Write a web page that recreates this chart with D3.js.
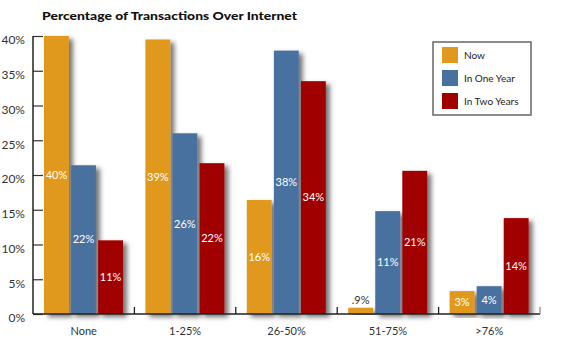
<!DOCTYPE html>
<html>
<head>
<meta charset="utf-8">
<script src="https://cdn.jsdelivr.net/npm/d3@7"></script>
<style>
  body { margin: 0; background: #fff; }
  text { font-family: Lato, "DejaVu Sans", sans-serif; }
</style>
</head>
<body>
<svg width="567" height="351"></svg>
<script>
// chart data
const categories = ['None', '1-25%', '26-50%', '51-75%', '>76%'];
const seriesNames = ['Now', 'In One Year', 'In Two Years'];
const nowValues = [40, 39.5, 16.4, 0.9, 3.3];
const oneYearValues = [21.4, 26.0, 37.9, 14.8, 4.0];
const twoYearValues = [10.6, 21.7, 33.5, 20.6, 13.8];
const nowLabels = ['40%', '39%', '16%', '.9%', '3%'];
const oneYearLabels = ['22%', '26%', '38%', '11%', '4%'];
const twoYearLabels = ['11%', '22%', '34%', '21%', '14%'];
const yTicks = [0, 5, 10, 15, 20, 25, 30, 35, 40];
const colors = ['#e0991e', '#48719f', '#a00000'];

const svg = d3.select('svg');
const width = +svg.attr('width');
const height = +svg.attr('height');
const font = 'Lato, "DejaVu Sans", sans-serif';

const margin = {top: 36, right: 27, bottom: 37, left: 33};
const innerWidth = width - margin.left - margin.right;
const innerHeight = height - margin.top - margin.bottom;

// build rows for each bar
const valueSets = [nowValues, oneYearValues, twoYearValues];
const labelSets = [nowLabels, oneYearLabels, twoYearLabels];
const bars = [];
categories.forEach((c, i) => {
    seriesNames.forEach((s, j) => {
        bars.push({cat: c, series: s, value: valueSets[j][i], label: labelSets[j][i], color: colors[j]});
    });
});

const x0 = d3.scaleBand()
    .domain(categories)
    .range([0, innerWidth]);

const x1 = d3.scaleBand()
    .domain(seriesNames)
    .range([11, 90])
    .paddingInner(0.08);

const yScale = d3.scaleLinear()
    .domain([0, 40])
    .range([innerHeight, 0]);

const defs = svg.append('defs');
const shadow = defs.append('filter')
    .attr('id', 'shadow')
    .attr('x', '-15%').attr('y', '-10%')
    .attr('width', '165%').attr('height', '125%');
shadow.append('feDropShadow')
    .attr('dx', 4).attr('dy', 3)
    .attr('stdDeviation', 2.5)
    .attr('flood-color', '#000')
    .attr('flood-opacity', 0.55);

svg.append('text')
    .attr('x', 42)
    .attr('y', 20)
    .attr('font-size', 12)
    .attr('font-weight', 900)
    .attr('fill', '#111')
    .attr('textLength', 255)
    .attr('lengthAdjust', 'spacingAndGlyphs')
    .text('Percentage of Transactions Over Internet');

const g = svg.append('g')
    .attr('transform', `translate(${margin.left}, ${margin.top})`);

// bars
g.selectAll('rect.bar').data(bars)
    .enter().append('rect')
        .attr('class', 'bar')
        .attr('x', d => x0(d.cat) + x1(d.series))
        .attr('y', d => yScale(d.value))
        .attr('width', x1.bandwidth())
        .attr('height', d => innerHeight - yScale(d.value))
        .attr('fill', d => d.color)
        .attr('filter', 'url(#shadow)');

// bar labels
g.selectAll('text.bar-label').data(bars)
    .enter().append('text')
        .attr('class', 'bar-label')
        .attr('x', d => x0(d.cat) + x1(d.series) + x1.bandwidth() / 2)
        .attr('y', d => d.value < 2 ? yScale(d.value) - 4 : yScale(d.value / 2))
        .attr('dy', d => d.value < 2 ? 0 : '0.35em')
        .attr('text-anchor', 'middle')
        .attr('font-size', 11)
        .attr('fill', d => d.value < 2 ? '#333' : '#fff')
        .text(d => d.label);

// y axis
const yAxis = d3.axisLeft(yScale)
    .tickValues(yTicks)
    .tickFormat(d => d + '%')
    .tickSize(-10)
    .tickPadding(8);

const yAxisG = g.append('g').call(yAxis);
yAxisG.select('.domain').remove();
yAxisG.selectAll('line').attr('stroke', '#333').attr('stroke-width', 1.2);
yAxisG.selectAll('text')
    .attr('font-size', 12)
    .attr('fill', '#333')
    .attr('font-family', font)
    .attr('x', -8)
    .attr('dy', '0.65em');
yAxisG.append('line')
    .attr('y1', 0).attr('y2', innerHeight)
    .attr('stroke', '#222').attr('stroke-width', 1.5);

// x axis
const xAxis = d3.axisBottom(x0)
    .tickSize(0)
    .tickPadding(13);

const xAxisG = g.append('g').call(xAxis)
    .attr('transform', `translate(0, ${innerHeight})`);
xAxisG.select('.domain').remove();
xAxisG.selectAll('text')
    .attr('font-size', 11)
    .attr('fill', '#333')
    .attr('font-family', font);
xAxisG.append('line')
    .attr('x1', 0).attr('x2', innerWidth)
    .attr('stroke', '#222').attr('stroke-width', 1.5);
xAxisG.selectAll('line.sep').data(categories.slice(1).concat(['end']))
    .enter().append('line')
        .attr('class', 'sep')
        .attr('x1', (d, i) => x0.step() * (i + 1))
        .attr('x2', (d, i) => x0.step() * (i + 1))
        .attr('y1', 0).attr('y2', -7)
        .attr('stroke', (d, i) => i === categories.length - 1 ? '#888' : '#222')
        .attr('stroke-width', 1.3);

// legend
const legend = svg.append('g')
    .attr('transform', 'translate(433, 42)');
legend.append('rect')
    .attr('width', 98).attr('height', 73)
    .attr('fill', '#fff')
    .attr('stroke', '#666')
    .attr('stroke-width', 1.5);

const legendItem = legend.selectAll('g.item').data(seriesNames)
    .enter().append('g')
        .attr('class', 'item')
        .attr('transform', (d, i) => `translate(9, ${5 + i * 23})`);
legendItem.append('rect')
    .attr('width', 16).attr('height', 16)
    .attr('fill', (d, i) => colors[i]);
legendItem.append('text')
    .attr('x', 22).attr('y', 8)
    .attr('dy', '0.35em')
    .attr('font-size', 10)
    .attr('fill', '#222')
    .text(d => d);
</script>
</body>
</html>
